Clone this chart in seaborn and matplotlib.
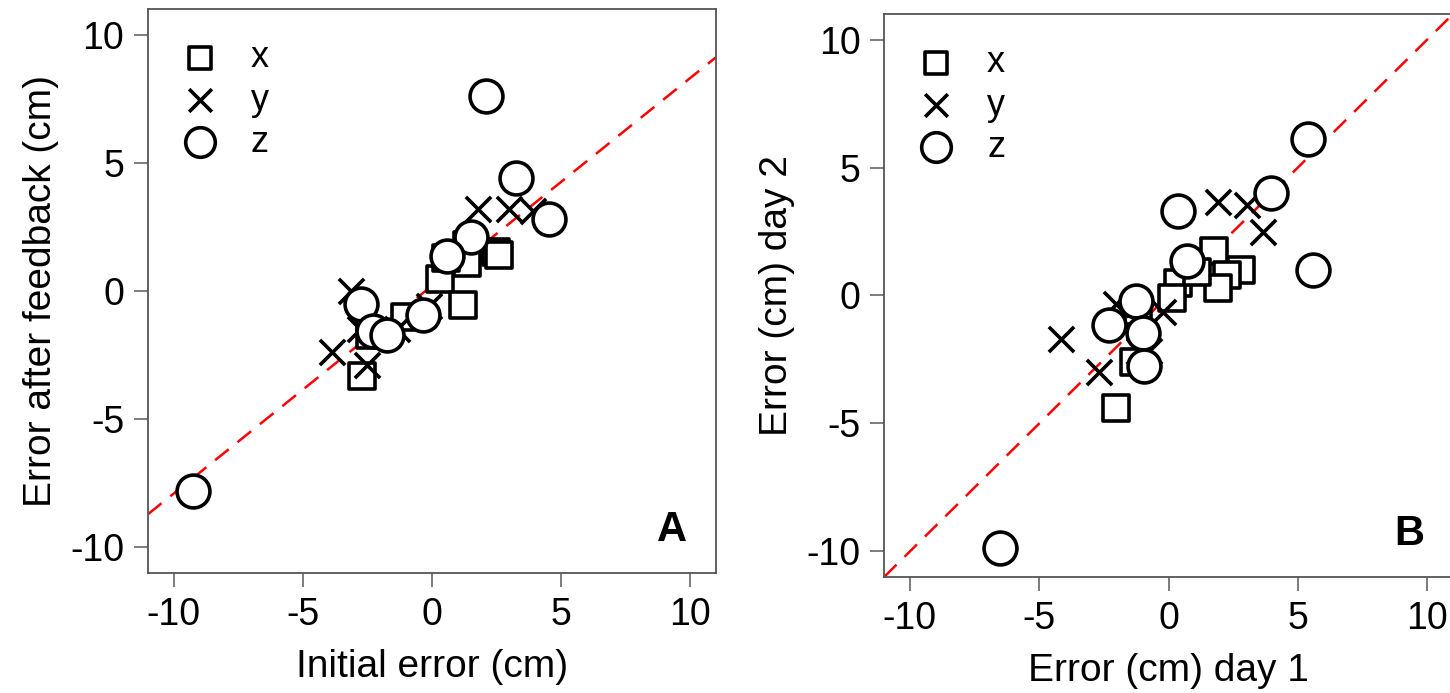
import matplotlib
matplotlib.use("Agg")
import matplotlib.pyplot as plt
import seaborn as sns
import numpy as np

# ---- Data: panel A (initial error vs error after feedback) ----
a_x_init = [2.5, 2.6, 1.35, 1.35, 0.3, 1.2, 0.55, -1.05, -2.7, -2.4]
a_x_after = [1.5, 1.4, 1.8, 1.1, 0.45, -0.55, 1.3, -1.0, -3.3, -1.7]
a_y_init = [1.8, 3.0, 3.9, -3.15, -3.85, -2.5, -0.1, -2.8, -1.35]
a_y_after = [3.2, 3.2, 3.1, 0.0, -2.4, -2.9, -0.6, -1.5, -1.5]
a_z_init = [2.1, 3.25, 4.55, 1.5, 0.6, -2.75, -2.3, -1.75, -0.35, -9.25]
a_z_after = [7.6, 4.4, 2.8, 2.1, 1.35, -0.5, -1.55, -1.7, -0.95, -7.8]

# ---- Data: panel B (day 1 vs day 2) ----
b_x_day1 = [1.75, 2.8, 2.25, 1.9, 0.35, 0.15, 1.1, -2.05, -1.35, -1.2]
b_x_day2 = [1.75, 1.0, 0.8, 0.3, 0.5, -0.1, 0.9, -4.4, -2.6, -0.6]
b_y_day1 = [1.9, 3.05, 3.65, -0.2, -4.15, -2.7, -2.05, -1.15, -0.75]
b_y_day2 = [3.65, 3.55, 2.5, -0.65, -1.7, -3.0, -0.35, -2.15, -2.15]
b_z_day1 = [5.4, 3.95, 0.35, 5.6, 0.7, -1.25, -2.3, -1.0, -0.95, -6.5]
b_z_day2 = [6.1, 4.0, 3.3, 1.0, 1.35, -0.2, -1.15, -1.45, -2.75, -9.85]

fit_slope = 0.81
fit_intercept = 0.2

series_labels = ["x", "y", "z"]
ticks = [-10, -5, 0, 5, 10]
tick_labels = ["-10", "-5", "0", "5", "10"]

sns.set_theme(style="white")
plt.rcParams["font.family"] = ["Liberation Sans", "DejaVu Sans"]
plt.rcParams["text.color"] = "black"
plt.rcParams["axes.labelcolor"] = "black"
plt.rcParams["xtick.labelcolor"] = "black"
plt.rcParams["ytick.labelcolor"] = "black"

fig = plt.figure(figsize=(14.5, 6.93), dpi=100)
axA = fig.add_axes([0.102, 0.1732, 0.3917, 0.8139])
axB = fig.add_axes([0.6097, 0.1674, 0.3924, 0.8124])

marker_styles = [
    dict(marker="s", s=330, facecolor="white", edgecolor="black", linewidth=2.6),
    dict(marker="x", s=330, color="black", linewidth=2.6),
    dict(marker="o", s=560, facecolor="white", edgecolor="black", linewidth=2.6),
]

def draw_panel(ax, xs, ys, line_fn, xlabel, ylabel, letter):
    lim = (-11, 11)
    xx = np.array(lim)
    ax.plot(xx, line_fn(xx), color="red", linestyle=(0, (7, 4.5)), linewidth=1.8, zorder=1)
    handles = []
    for (x, y, st, lab) in zip(xs, ys, marker_styles, series_labels):
        sns.scatterplot(x=x, y=y, ax=ax, zorder=3, legend=False, **st)
        handles.append(ax.collections[-1])
    ax.set_xlim(lim)
    ax.set_ylim(lim)
    ax.set_xticks(ticks)
    ax.set_xticklabels(tick_labels)
    ax.set_yticks(ticks)
    ax.set_yticklabels(tick_labels)
    ax.tick_params(axis="both", which="both", direction="out", length=10, width=1.2,
                   color="#666666", labelcolor="black", labelsize=27, pad=7,
                   bottom=True, left=True)
    for sp in ax.spines.values():
        sp.set_color("#555555")
        sp.set_linewidth(1.3)
    ax.set_xlabel(xlabel, fontsize=28, labelpad=12, color="black")
    ax.set_ylabel(ylabel, fontsize=28, labelpad=8, color="black")
    ax.text(0.95, 0.04, letter, transform=ax.transAxes, ha="right", va="bottom",
            fontsize=30, fontweight="bold", color="black")
    ax.legend(handles, series_labels, loc="upper left", frameon=False,
              fontsize=26, handlelength=1.0, handletextpad=0.9,
              labelspacing=0.2, borderaxespad=0.0,
              bbox_to_anchor=(0.035, 0.97), markerscale=0.9)

draw_panel(axA, [a_x_init, a_y_init, a_z_init], [a_x_after, a_y_after, a_z_after],
           lambda v: fit_slope * v + fit_intercept,
           "Initial error (cm)", "Error after feedback (cm)", "A")
draw_panel(axB, [b_x_day1, b_y_day1, b_z_day1], [b_x_day2, b_y_day2, b_z_day2],
           lambda v: v,
           "Error (cm) day 1", "Error (cm) day 2", "B")

fig.savefig("out.png", dpi=100, facecolor="white")
